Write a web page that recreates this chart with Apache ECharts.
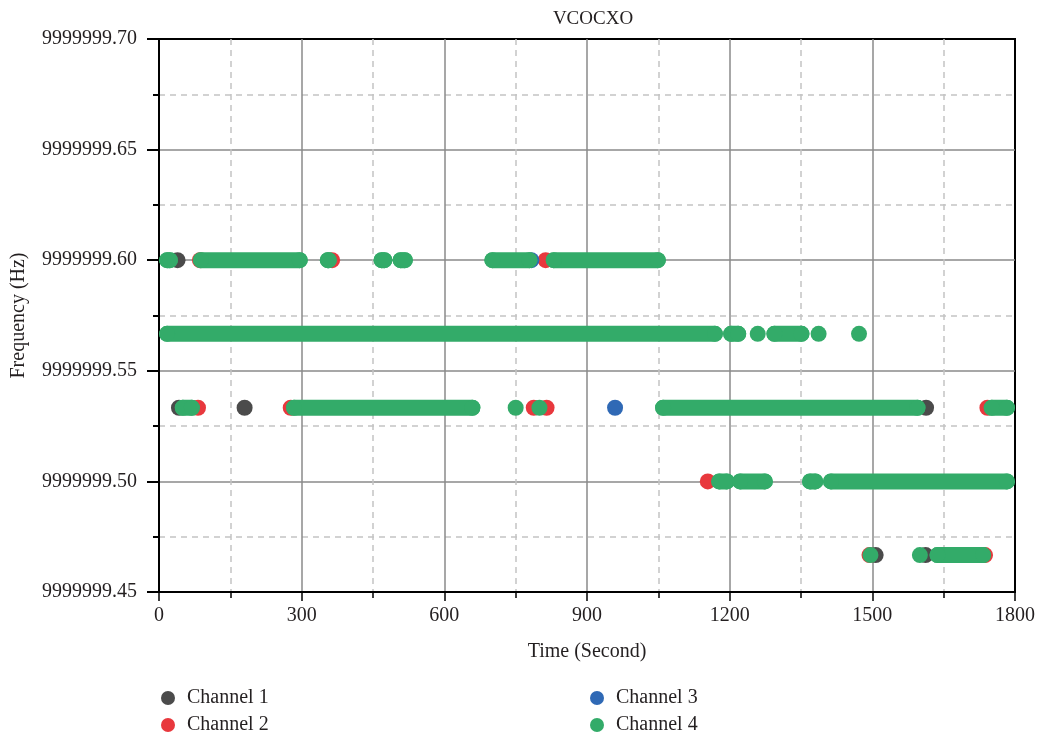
<!DOCTYPE html>
<html>
<head>
<meta charset="utf-8">
<script src="https://cdn.jsdelivr.net/npm/echarts@6/dist/echarts.min.js"></script>
<style>html,body{margin:0;padding:0;background:#fff;}#c{width:1039px;height:738px;}</style>
</head>
<body>
<div id="c"></div>
<script>
// Runs of consecutive samples: [frequency (Hz), start time (s), end time (s)]
const channel1Runs = [
  [9999999.60, 39, 39],
  [9999999.5333, 42, 42],
  [9999999.5333, 180, 180],
  [9999999.5333, 1613, 1613],
  [9999999.4667, 1507, 1507],
  [9999999.4667, 1612, 1612]
];
const channel2Runs = [
  [9999999.60, 86, 86],
  [9999999.60, 364, 364],
  [9999999.60, 813, 813],
  [9999999.5333, 82, 82],
  [9999999.5333, 277, 277],
  [9999999.5333, 788, 788],
  [9999999.5333, 815, 815],
  [9999999.5333, 1742, 1742],
  [9999999.50, 1154, 1154],
  [9999999.4667, 1494, 1494],
  [9999999.4667, 1737, 1737]
];
const channel3Runs = [
  [9999999.60, 783, 783],
  [9999999.5333, 959, 959]
];
const channel4Runs = [
  [9999999.60, 17, 23],
  [9999999.60, 88, 296],
  [9999999.60, 355, 357],
  [9999999.60, 468, 474],
  [9999999.60, 508, 517],
  [9999999.60, 701, 779],
  [9999999.60, 830, 1049],
  [9999999.5667, 17, 1169],
  [9999999.5667, 1203, 1218],
  [9999999.5667, 1259, 1259],
  [9999999.5667, 1294, 1351],
  [9999999.5667, 1387, 1387],
  [9999999.5667, 1472, 1472],
  [9999999.5333, 50, 69],
  [9999999.5333, 284, 659],
  [9999999.5333, 750, 750],
  [9999999.5333, 800, 800],
  [9999999.5333, 1060, 1595],
  [9999999.5333, 1751, 1783],
  [9999999.50, 1178, 1194],
  [9999999.50, 1222, 1274],
  [9999999.50, 1369, 1380],
  [9999999.50, 1413, 1783],
  [9999999.4667, 1496, 1496],
  [9999999.4667, 1600, 1600],
  [9999999.4667, 1637, 1733]
];
const seriesNames = ['Channel 1', 'Channel 2', 'Channel 3', 'Channel 4'];
const seriesColors = ['#4b4b4b', '#e8383d', '#2f69b5', '#33ab69'];
const allRuns = [channel1Runs, channel2Runs, channel3Runs, channel4Runs];

function runsToData(runs) {
  const out = [];
  runs.forEach(r => {
    const y = r[0], s = r[1], e = r[2];
    out.push([s, y]);
    if (e !== s) out.push([e, y]);
    out.push([e, null]);
  });
  return out;
}

const FONT = 'Liberation Serif';
const TXT = '#231f20';
const legendPos = [[161, 688], [161, 715], [590, 688], [590, 715]];
const chart = echarts.init(document.getElementById('c'), null, {renderer: 'canvas'});
chart.setOption({
  animation: false,
  backgroundColor: '#fff',
  title: {
    text: 'VCOCXO', left: 588, top: 5, textAlign: 'center',
    textStyle: {fontFamily: FONT, fontSize: 19, fontWeight: 'normal', color: TXT}
  },
  legend: seriesNames.map((n, i) => ({
    data: [n], left: legendPos[i][0], top: legendPos[i][1], icon: 'circle',
    itemWidth: 14, itemHeight: 14, padding: 0,
    textStyle: {fontFamily: FONT, fontSize: 20, color: TXT, padding: [0, 0, 0, 7]}
  })),
  grid: {left: 159, right: 24, top: 39, bottom: 146, show: true, borderColor: '#000', borderWidth: 2, backgroundColor: 'transparent'},
  xAxis: {
    type: 'value', min: 0, max: 1800, interval: 300,
    name: 'Time (Second)', nameLocation: 'middle', nameGap: 50,
    nameTextStyle: {fontFamily: FONT, fontSize: 20, color: TXT},
    axisLine: {show: true, lineStyle: {color: '#000', width: 2}},
    axisTick: {show: true, length: 9, lineStyle: {color: '#000', width: 1.5}},
    minorTick: {show: true, splitNumber: 2, length: 6, lineStyle: {color: '#000', width: 1.5}},
    axisLabel: {fontFamily: FONT, fontSize: 20, color: TXT, margin: 14, formatter: v => String(v)},
    splitLine: {show: true, showMinLine: false, showMaxLine: false, lineStyle: {color: '#8a8a8a', width: 1.5}},
    minorSplitLine: {show: true, lineStyle: {color: '#c4c4c4', width: 1.5, type: [6, 5]}}
  },
  yAxis: {
    type: 'value', min: 9999999.45, max: 9999999.70, interval: 0.05,
    name: 'Frequency (Hz)', nameLocation: 'middle', nameGap: 130, nameRotate: 90,
    nameTextStyle: {fontFamily: FONT, fontSize: 20, color: TXT},
    axisLine: {show: true, lineStyle: {color: '#000', width: 2}},
    axisTick: {show: true, length: 12, lineStyle: {color: '#000', width: 2}},
    minorTick: {show: true, splitNumber: 2, length: 6, lineStyle: {color: '#000', width: 2}},
    axisLabel: {fontFamily: FONT, fontSize: 20, color: TXT, margin: 22,
      formatter: v => v.toFixed(2)},
    splitLine: {show: true, showMinLine: false, showMaxLine: false, lineStyle: {color: '#8a8a8a', width: 1.5}},
    minorSplitLine: {show: true, lineStyle: {color: '#c4c4c4', width: 1.5, type: [6, 5]}}
  },
  series: allRuns.map((runs, i) => ({
    name: seriesNames[i], type: 'line', data: runsToData(runs),
    connectNulls: false, showSymbol: true, symbol: 'circle', symbolSize: 16,
    itemStyle: {color: seriesColors[i], borderWidth: 0},
    lineStyle: {color: seriesColors[i], width: 16, cap: 'round', join: 'round'},
    emphasis: {disabled: true}, z: 2 + i
  }))
});
</script>
</body>
</html>
